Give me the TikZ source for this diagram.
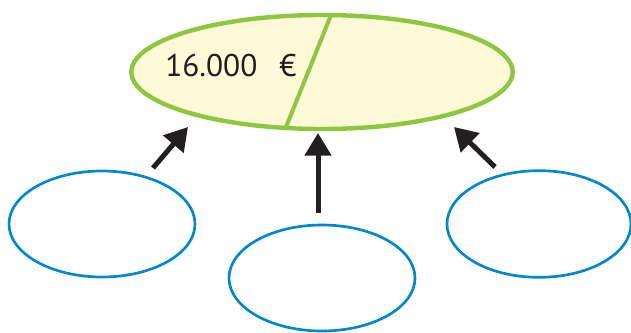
\documentclass[tikz,border=0pt]{standalone}
\usepackage{fontspec}
\setmainfont{PT Sans}
\usetikzlibrary{shapes.geometric,arrows.meta}
\definecolor{lgreen}{RGB}{141,198,63}
\definecolor{lyellow}{RGB}{254,250,216}
\definecolor{lblue}{RGB}{0,136,206}
\definecolor{arrowblack}{RGB}{35,31,32}
\begin{document}
\begin{tikzpicture}[x=0.75pt,y=-0.75pt,
  bigell/.style={ellipse,draw=lgreen,fill=lyellow,line width=3.3pt,inner sep=0pt,outer sep=0pt,minimum width=286pt,minimum height=85.5pt},
  smallell/.style={ellipse,draw=lblue,line width=2pt,inner sep=0pt,outer sep=0pt,minimum width=139.5pt,minimum height=79.5pt},
  pointer/.style={draw=arrowblack,line width=3.75pt,-{Triangle[length=17pt,width=19.5pt]}},
  divider/.style={draw=lgreen,line width=3pt},
  amount/.style={anchor=base west,font=\fontsize{23.5}{23.5}\selectfont,text=arrowblack,inner sep=0pt}]
\useasboundingbox (0,0) rectangle (631,332);
\node[bigell] (big) at (322,72) {};
\draw[divider] (big.81) -- (big.237);
\node[amount] (amt) at (165,76.5) {16.000\hspace{0.7em}€};
\node[smallell] (left) at (102,224) {};
\node[smallell] (mid) at (322,278) {};
\node[smallell,minimum width=138pt,minimum height=80pt] (right) at (539,224) {};
\coordinate (lt) at (153,168);
\coordinate (lh) at (188,127);
\coordinate (mt) at (318,213);
\coordinate (mh) at (318,133);
\coordinate (rt) at (495,167);
\coordinate (rh) at (454,127);
\draw[pointer] (lt) -- (lh);
\draw[pointer] (mt) -- (mh);
\draw[pointer] (rt) -- (rh);
\end{tikzpicture}
\end{document}
